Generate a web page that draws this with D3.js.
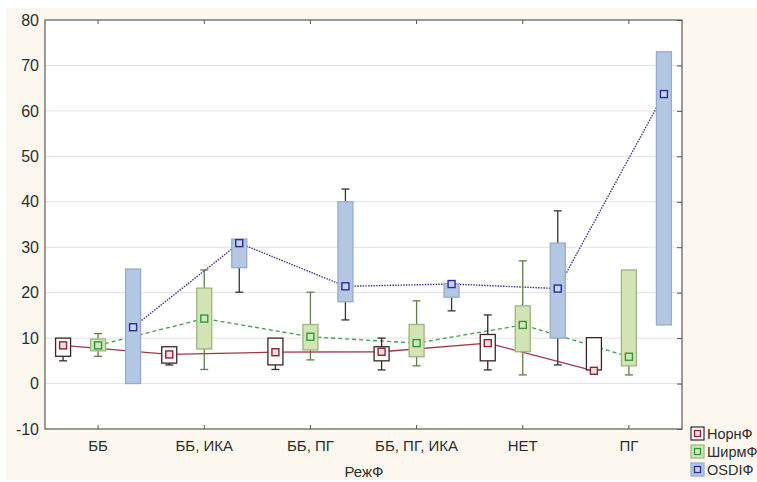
<!DOCTYPE html>
<meta charset="utf-8">
<script src="https://d3js.org/d3.v7.min.js"></script>
<style>
  body { margin: 0; background: #fff; }
  text { font-family: "Liberation Sans", Arial, sans-serif; }
</style>
<div id="chart"></div>
<script>

// categories and series
var categories = ["ББ", "ББ, ИКА", "ББ, ПГ", "ББ, ПГ, ИКА", "НЕТ", "ПГ"];
var seriesNames = ["НорнФ", "ШирмФ", "OSDIФ"];
var yTicks = [-10, 0, 10, 20, 30, 40, 50, 60, 70, 80];

// НорнФ
var nornMin = [5, 4.1, 3.1, 3, 3, 2.8];
var nornQ1  = [6, 4.5, 4.1, 5, 5, 3];
var nornMed = [8.4, 6.4, 6.9, 7.0, 8.9, 2.8];
var nornQ3  = [10, 8.1, 10, 8.1, 10.8, 10.1];
var nornMax = [10, 8.1, 10, 10, 15.1, 10.1];

// ШирмФ
var shirmMin = [6, 3.1, 5.2, 3.9, 1.9, 1.9];
var shirmQ1  = [7.2, 7.6, 7.4, 5.9, 7, 3.9];
var shirmMed = [8.4, 14.3, 10.3, 8.9, 12.9, 5.9];
var shirmQ3  = [9.8, 21, 13, 13, 17.1, 25];
var shirmMax = [11, 25, 20.1, 18.2, 27, 25];

// OSDIФ
var osdiMin = [0, 20.1, 14, 16, 4.1, 12.9];
var osdiQ1  = [0, 25.5, 18, 19, 10, 12.9];
var osdiMed = [12.4, 30.9, 21.4, 21.9, 20.9, 63.7];
var osdiQ3  = [25.2, 31.8, 40, 22, 30.9, 73];
var osdiMax = [25.2, 31.8, 42.8, 22, 38, 73];

var W = 757, H = 482;
var pLeft = 45, pRight = 682, pTop = 20, pBottom = 429;
var textColor = "#2e2e2e";

var styles = {
  "НорнФ": {box: "#ffffff", boxStroke: "#3a2626", whisk: "#3a2626", marker: "#8e2435", mfill: "#f3dede", line: "#a03848", dash: null, lw: 1.3},
  "ШирмФ": {box: "#d3e4b4", boxStroke: "#9cb57e", whisk: "#5e7d4c", marker: "#2f9a35", mfill: "#cfe8c0", line: "#3f9f4a", dash: "4,3", lw: 1.3},
  "OSDIФ": {box: "#b3c7e3", boxStroke: "#93abd0", whisk: "#333333", marker: "#2c2c9a", mfill: "#c6d2f0", line: "#3a3a8e", dash: "1.5,1.2", lw: 1.4}
};

var data = {
  "НорнФ": categories.map(function(c, i) { return {cat: c, min: nornMin[i], q1: nornQ1[i], med: nornMed[i], q3: nornQ3[i], max: nornMax[i]}; }),
  "ШирмФ": categories.map(function(c, i) { return {cat: c, min: shirmMin[i], q1: shirmQ1[i], med: shirmMed[i], q3: shirmQ3[i], max: shirmMax[i]}; }),
  "OSDIФ": categories.map(function(c, i) { return {cat: c, min: osdiMin[i], q1: osdiQ1[i], med: osdiMed[i], q3: osdiQ3[i], max: osdiMax[i]}; })
};

var svg = d3.select("#chart").append("svg")
  .attr("width", W).attr("height", H);

// background
svg.append("rect").attr("x", 0).attr("y", 0).attr("width", W).attr("height", H).attr("fill", "#ffffff");
svg.append("rect").attr("x", 6).attr("y", 8).attr("width", W - 6).attr("height", H - 10).attr("fill", "#fcf8ef");
svg.append("rect").attr("x", pLeft).attr("y", pTop).attr("width", pRight - pLeft).attr("height", pBottom - pTop).attr("fill", "#ffffff");

var x = d3.scaleBand().domain(categories).range([pLeft, pRight]);
var off = d3.scalePoint().domain(seriesNames).range([-35, 35]);
var y = d3.scaleLinear().domain([-10, 80]).range([pBottom, pTop]);

// grid
svg.append("g").selectAll("line").data(yTicks.slice(1, -1)).enter().append("line")
  .attr("x1", pLeft).attr("x2", pRight)
  .attr("y1", function(d) { return y(d); }).attr("y2", function(d) { return y(d); })
  .attr("stroke", "#e2e2e2").attr("stroke-width", 1);

// y axis labels
var yAxis = d3.axisLeft(y).tickValues(yTicks).tickFormat(String).tickSize(0).tickPadding(6);
var gy = svg.append("g").attr("transform", "translate(" + pLeft + ",0)").call(yAxis);
gy.select(".domain").remove();
gy.selectAll("text").attr("font-size", 16).attr("fill", textColor).style("font-family", "Liberation Sans, Arial, sans-serif");

// right side inner ticks
var gr = svg.append("g").attr("transform", "translate(" + pRight + ",0)")
  .call(d3.axisLeft(y).tickValues(yTicks).tickSize(5).tickFormat(""));
gr.select(".domain").remove();
gr.selectAll("line").attr("stroke", "#555");

// x axis labels and ticks
var xAxis = d3.axisBottom(x).tickSizeInner(-4).tickSizeOuter(0).tickPadding(11);
var gx = svg.append("g").attr("transform", "translate(0," + pBottom + ")").call(xAxis);
gx.select(".domain").remove();
gx.selectAll("line").attr("stroke", "#555");
gx.selectAll("text").attr("font-size", 15).attr("fill", textColor).style("font-family", "Liberation Sans, Arial, sans-serif");

var gt = svg.append("g").attr("transform", "translate(0," + pTop + ")")
  .call(d3.axisTop(x).tickSizeInner(-4).tickSizeOuter(0).tickFormat(""));
gt.select(".domain").remove();
gt.selectAll("line").attr("stroke", "#555");

// plot frame
svg.append("rect").attr("x", pLeft).attr("y", pTop).attr("width", pRight - pLeft).attr("height", pBottom - pTop)
  .attr("fill", "none").attr("stroke", "#5a5a5a").attr("stroke-width", 1.2);

var bw = 15, cap = 8;
var cxOf = function(s) { return function(d) { return x(d.cat) + x.bandwidth() / 2 + off(s); }; };

// median lines (behind boxes)
seriesNames.forEach(function(s) {
  var st = styles[s];
  var line = d3.line().x(cxOf(s)).y(function(d) { return y(d.med); });
  svg.append("path").datum(data[s])
    .attr("d", line).attr("fill", "none")
    .attr("stroke", st.line).attr("stroke-width", st.lw)
    .attr("stroke-dasharray", st.dash);
});

seriesNames.forEach(function(s) {
  var st = styles[s];
  var cx = cxOf(s);
  var items = svg.append("g").selectAll("g").data(data[s]).enter().append("g");

  // whiskers
  items.append("line")
    .attr("x1", cx).attr("x2", cx)
    .attr("y1", function(d) { return y(d.max); }).attr("y2", function(d) { return y(d.q3); })
    .attr("stroke", st.whisk).attr("stroke-width", 1.3);
  items.append("line")
    .attr("x1", cx).attr("x2", cx)
    .attr("y1", function(d) { return y(d.q1); }).attr("y2", function(d) { return y(d.min); })
    .attr("stroke", st.whisk).attr("stroke-width", 1.3);
  items.filter(function(d) { return d.max > d.q3; }).append("line")
    .attr("x1", function(d) { return cx(d) - cap / 2; }).attr("x2", function(d) { return cx(d) + cap / 2; })
    .attr("y1", function(d) { return y(d.max); }).attr("y2", function(d) { return y(d.max); })
    .attr("stroke", st.whisk).attr("stroke-width", 1.3);
  items.filter(function(d) { return d.min < d.q1; }).append("line")
    .attr("x1", function(d) { return cx(d) - cap / 2; }).attr("x2", function(d) { return cx(d) + cap / 2; })
    .attr("y1", function(d) { return y(d.min); }).attr("y2", function(d) { return y(d.min); })
    .attr("stroke", st.whisk).attr("stroke-width", 1.3);

  // box
  items.append("rect")
    .attr("x", function(d) { return cx(d) - bw / 2; })
    .attr("y", function(d) { return y(d.q3); })
    .attr("width", bw)
    .attr("height", function(d) { return y(d.q1) - y(d.q3); })
    .attr("fill", st.box).attr("stroke", st.boxStroke).attr("stroke-width", 1.3);
});

// median markers
seriesNames.forEach(function(s) {
  var st = styles[s];
  var cx = cxOf(s);
  svg.append("g").selectAll("rect").data(data[s]).enter().append("rect")
    .attr("x", function(d) { return cx(d) - 3.5; })
    .attr("y", function(d) { return y(d.med) - 3.5; })
    .attr("width", 7).attr("height", 7)
    .attr("fill", st.mfill).attr("stroke", st.marker).attr("stroke-width", 1.4);
});

// x axis title
svg.append("text").attr("x", 364).attr("y", 477).attr("text-anchor", "middle")
  .attr("font-size", 15).attr("fill", textColor).text("РежФ");

// legend
var lg = svg.append("g").attr("transform", "translate(691,427)");
seriesNames.forEach(function(s, i) {
  var st = styles[s];
  var row = lg.append("g").attr("transform", "translate(0," + (i * 18) + ")");
  row.append("rect").attr("x", 0).attr("y", 0).attr("width", 13).attr("height", 13)
    .attr("fill", st.box).attr("stroke", st.boxStroke).attr("stroke-width", 1.2);
  row.append("rect").attr("x", 3.5).attr("y", 3.5).attr("width", 6).attr("height", 6)
    .attr("fill", st.mfill).attr("stroke", st.marker).attr("stroke-width", 1.3);
  row.append("text").attr("x", 16).attr("y", 12).attr("font-size", 14.5).attr("fill", textColor).text(s);
});

</script>
